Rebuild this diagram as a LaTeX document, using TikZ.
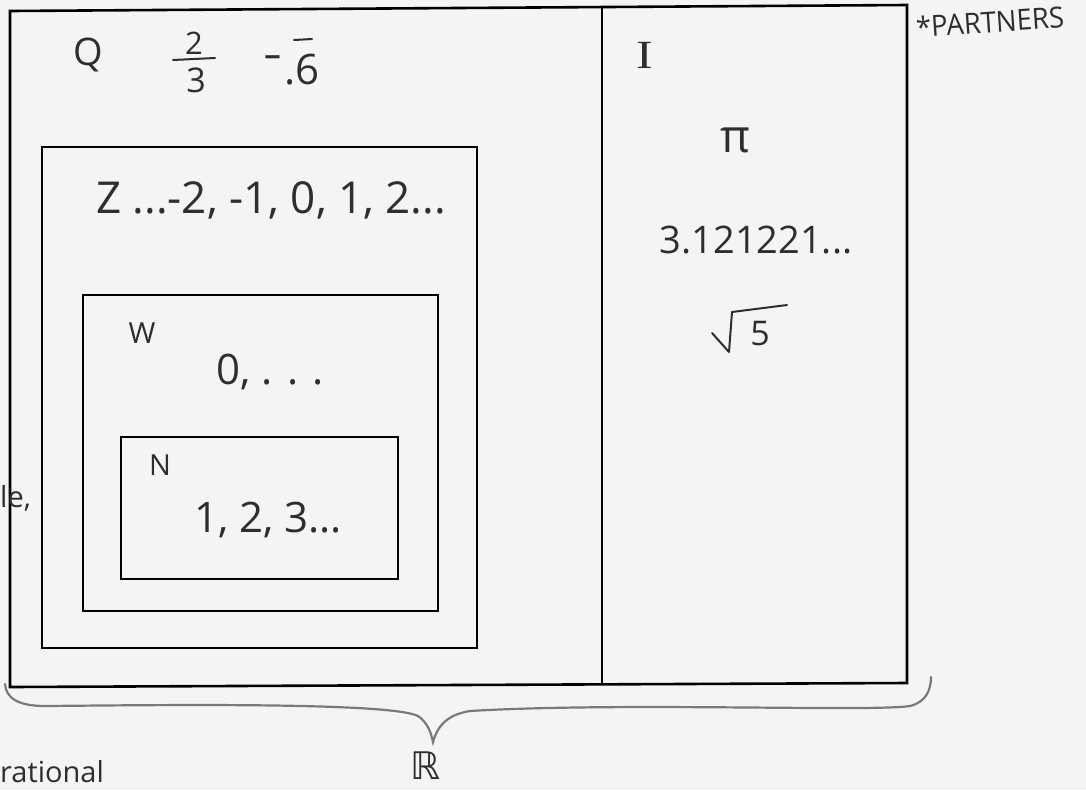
\documentclass[tikz,border=0pt]{standalone}
\usepackage{fontspec}
\setmainfont{Open Sans}
\newfontfamily\dejavu{DejaVu Sans}
\newfontfamily\serifhand{Liberation Serif}
\definecolor{ink}{HTML}{2E2E2E}
\definecolor{pencil}{HTML}{7A7A7A}
\definecolor{paper}{HTML}{F4F4F4}
\begin{document}
\begin{tikzpicture}[x=1pt,y=-1pt,
  setbox/.style={draw=black,line width=2.6pt,line join=miter},
  hand/.style={text=ink,font=\fontsize{42}{46}\selectfont,inner sep=0pt},
  mid/.style={text=ink,font=\fontsize{34}{38}\selectfont,inner sep=0pt},
  small/.style={text=ink,font=\fontsize{29}{33}\selectfont,inner sep=0pt},
  stroke/.style={draw=ink,line width=2pt,line cap=round,line join=round},
  bracepath/.style={draw=pencil,line width=2.2pt,line cap=round}]
\fill[paper] (0,0) rectangle (1086,790);
\useasboundingbox (0,0) rectangle (1086,790);
% outer set R split into Q and I
\draw[setbox] (10,11) -- (907,5) -- (907,683) -- (10,687) -- cycle;
\draw[setbox,line width=2.2pt] (602,7) -- (602,685);
% Z, W, N
\draw[setbox] (42,147) rectangle (477,648);
\draw[setbox] (83,295) rectangle (438,611);
\draw[setbox] (121,437) rectangle (398,579);
% rational labels
\node[mid,font=\fontsize{38}{42}\selectfont] (q) at (88,55) {Q};
\node[mid,font=\fontsize{31}{35}\selectfont] (two) at (194,43) {2};
\node[mid] (three) at (196,80) {3};
\draw[stroke] (173,60) -- (215,58);
\node[hand,xscale=1.4] (minus) at (273,62) {-};
\node[hand] (six) at (302,70) {.6};
\draw[stroke] (294,40) -- (312,39);
% irrational labels
\node[text=ink,inner sep=0pt,xscale=1.25,font=\serifhand\fontsize{40}{44}\selectfont] (i) at (645,55) {I};
\node[hand,font=\fontsize{46}{50}\selectfont] (pi) at (735,140) {π};
\node[hand,font=\fontsize{38}{42}\selectfont] (irr) at (756,240) {3.121221...};
\node[mid] (five) at (760,334) {5};
\draw[stroke] (712,333) -- (729,352) -- (732,312) -- (787,305);
% integer, whole, natural
\node[hand,font=\fontsize{44}{48}\selectfont] (z) at (271,200) {Z ...-2, -1, 0, 1, 2...};
\node[small] (w) at (142,333) {W};
\node[hand] (wv) at (270,372) {0, . . .};
\node[small] (n) at (160,465) {N};
\node[hand] (nv) at (268,520) {1, 2, 3...};
% margin notes
\node[small,rotate=4,xscale=0.95] (partners) at (990,22) {*PARTNERS};
\node[small,anchor=west] (le) at (0,498) {le,};
\node[small,anchor=base west] (rat) at (0,782) {rational};
% brace for R
\coordinate (bl) at (5,684);
\coordinate (tip) at (433,742);
\coordinate (br) at (931,677);
\draw[bracepath] (bl) .. controls (6,698) and (18,706) .. (45,706)
  .. controls (160,705) and (390,702) .. (418,716)
  .. controls (427,722) and (431,732) .. (tip)
  .. controls (437,728) and (445,715) .. (470,711)
  .. controls (620,702) and (870,712) .. (910,706)
  .. controls (926,702) and (931,690) .. (br);
\node[text=ink,font=\dejavu\fontsize{38}{42}\selectfont,inner sep=0pt] (r) at (426,766) {ℝ};
\end{tikzpicture}
\end{document}
